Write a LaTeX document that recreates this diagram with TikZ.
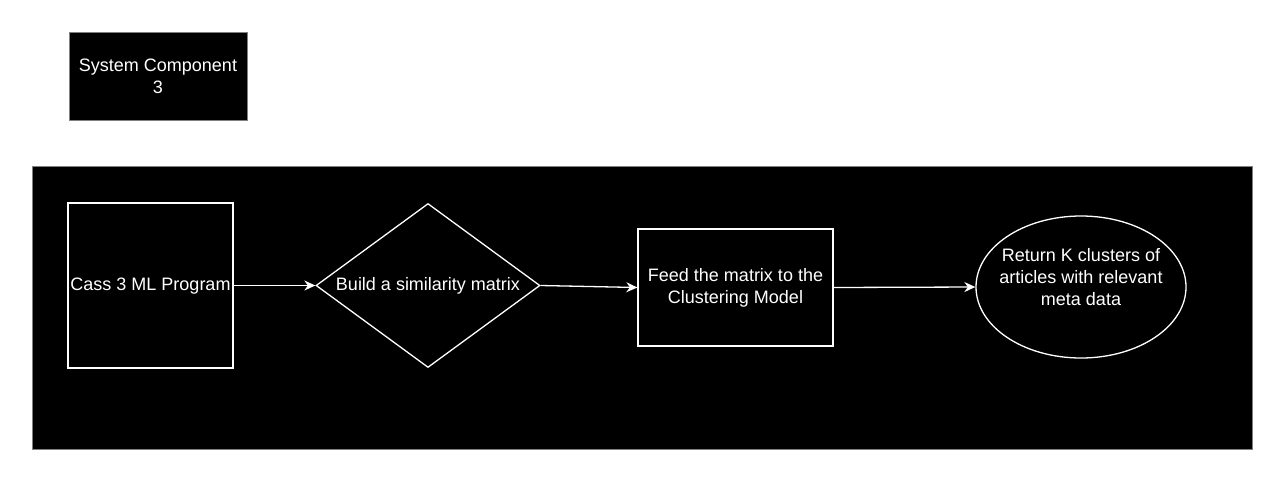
\documentclass[tikz,border=0pt]{standalone}
\usepackage{fontspec}
\setmainfont{Liberation Sans}
\usetikzlibrary{shapes.geometric,arrows.meta}
\begin{document}
\begin{tikzpicture}[x=1pt,y=-1pt,
  txt/.style={text=white,font=\fontsize{18}{22}\selectfont,align=center,inner sep=0pt},
  wbox/.style={draw=white,line width=1.3pt,fill=black,inner sep=0pt},
  conn/.style={draw=white,line width=1.3pt,-{Stealth[length=11pt,width=10pt,inset=3.5pt]}}]
\useasboundingbox (0,0) rectangle (1284,482);
\fill[white] (0,0) rectangle (1284,482);
% title box
\node[draw={rgb,255:red,128;green,128;blue,128},line width=0.8pt,fill=black,minimum width=178pt,minimum height=88pt,inner sep=0pt] (title) at (158,76) {};
\node[txt] (titletxt) at (158,76) {System Component\\3};
% container
\node[draw={rgb,255:red,128;green,128;blue,128},line width=0.8pt,fill=black,minimum width=1220pt,minimum height=283pt,inner sep=0pt] (cont) at (642,307.5) {};
% nodes
\node[wbox,minimum width=165pt,minimum height=165pt] (prog) at (150.5,285.5) {};
\node[txt] (progtxt) at (150.5,286) {Cass 3 ML Program};
\node[wbox,shape=diamond,aspect=1.366,minimum width=224pt,minimum height=164pt] (sim) at (428,285.5) {};
\node[txt] (simtxt) at (428,286) {Build a similarity matrix};
\node[wbox,minimum width=195pt,minimum height=117pt] (feed) at (735.5,287.5) {};
\node[txt] (feedtxt) at (735.5,288) {Feed the matrix to the\\Clustering Model};
\node[wbox,shape=ellipse,minimum width=210pt,minimum height=142pt] (ret) at (1081,287) {};
\node[txt] (rettxt) at (1081,277) {Return K clusters of\\articles with relevant\\meta data};
% connectors
\draw[conn] (prog.east) -- (sim.west);
\draw[conn] (sim.east) -- (feed.west);
\draw[conn] (feed.east) -- (ret.west);
\end{tikzpicture}
\end{document}
